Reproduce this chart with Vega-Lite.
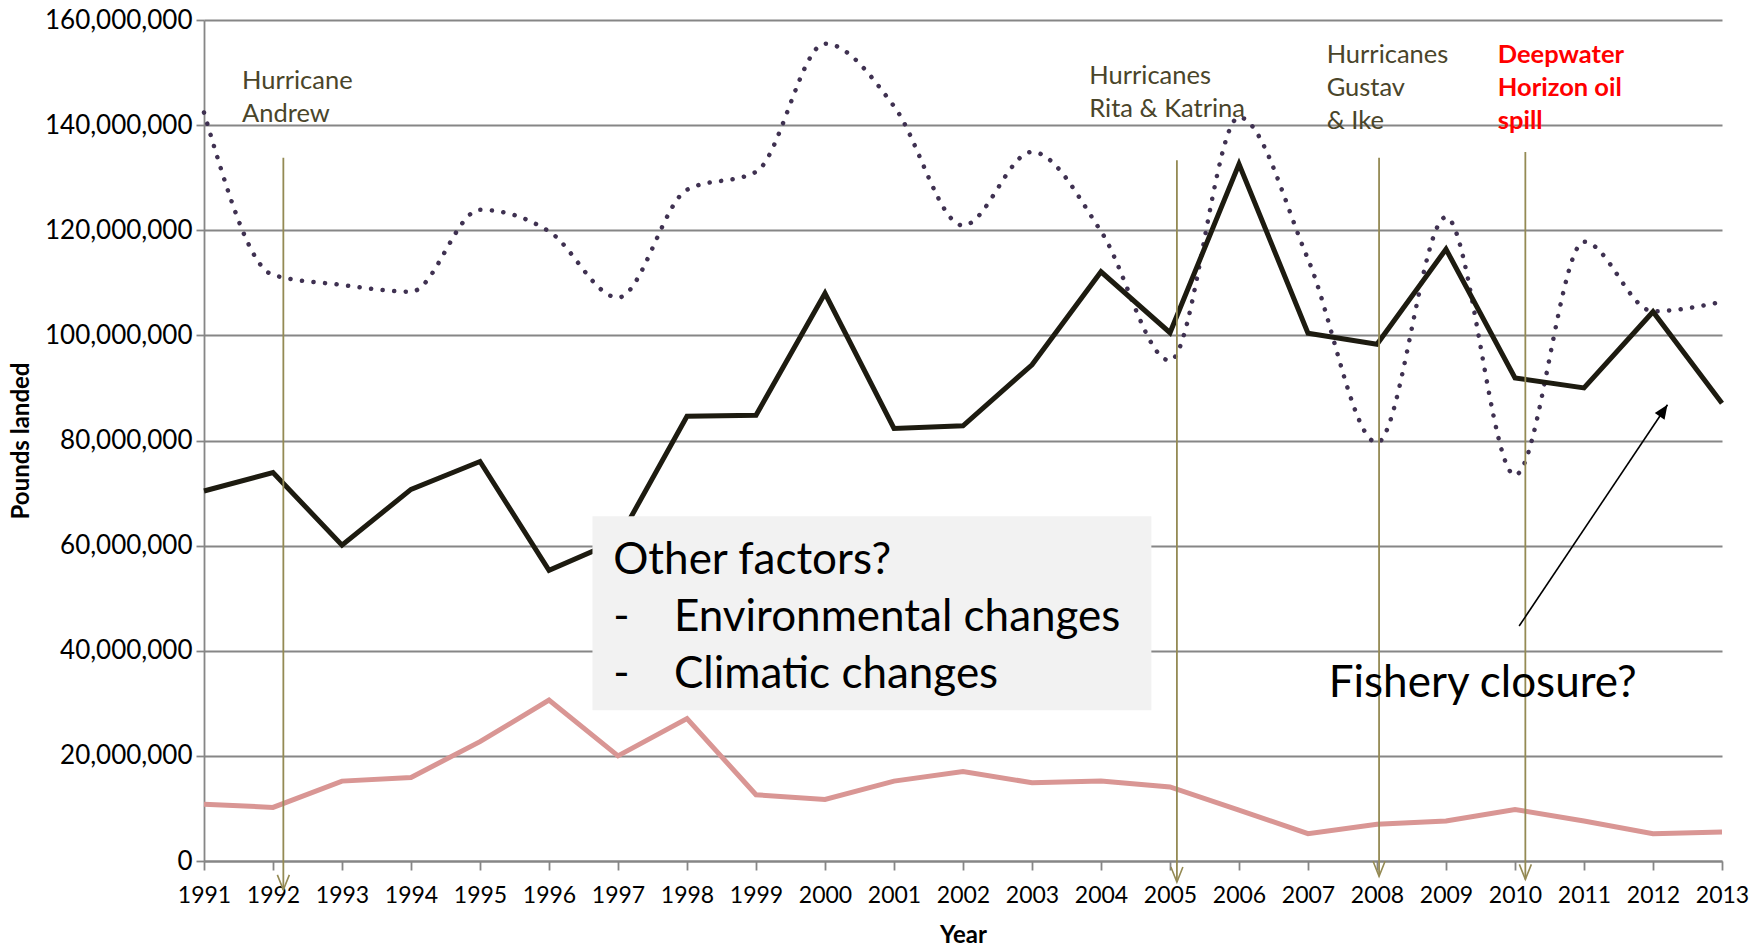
{
  "$schema": "https://vega.github.io/schema/vega-lite/v6.json",
  "width": 1518,
  "height": 841,
  "autosize": {"type": "none"},
  "padding": {"left": 204, "top": 20, "right": 40, "bottom": 86},
  "background": "white",
  "config": {"view": {"stroke": null}, "font": "Lato"},
  "datasets": {
    "landings": [
      {"year": 1991, "series": "Brown shrimp", "value": 142400000},
      {"year": 1992, "series": "Brown shrimp", "value": 111500000},
      {"year": 1993, "series": "Brown shrimp", "value": 109600000},
      {"year": 1994, "series": "Brown shrimp", "value": 108300000},
      {"year": 1995, "series": "Brown shrimp", "value": 123900000},
      {"year": 1996, "series": "Brown shrimp", "value": 119800000},
      {"year": 1997, "series": "Brown shrimp", "value": 107200000},
      {"year": 1998, "series": "Brown shrimp", "value": 127700000},
      {"year": 1999, "series": "Brown shrimp", "value": 131100000},
      {"year": 2000, "series": "Brown shrimp", "value": 155500000},
      {"year": 2001, "series": "Brown shrimp", "value": 143600000},
      {"year": 2002, "series": "Brown shrimp", "value": 120900000},
      {"year": 2003, "series": "Brown shrimp", "value": 134900000},
      {"year": 2004, "series": "Brown shrimp", "value": 119800000},
      {"year": 2005, "series": "Brown shrimp", "value": 95200000},
      {"year": 2006, "series": "Brown shrimp", "value": 141500000},
      {"year": 2007, "series": "Brown shrimp", "value": 114500000},
      {"year": 2008, "series": "Brown shrimp", "value": 79600000},
      {"year": 2009, "series": "Brown shrimp", "value": 122500000},
      {"year": 2010, "series": "Brown shrimp", "value": 73400000},
      {"year": 2011, "series": "Brown shrimp", "value": 117800000},
      {"year": 2012, "series": "Brown shrimp", "value": 104600000},
      {"year": 2013, "series": "Brown shrimp", "value": 106400000},
      {"year": 1991, "series": "White shrimp", "value": 70400000},
      {"year": 1992, "series": "White shrimp", "value": 73900000},
      {"year": 1993, "series": "White shrimp", "value": 60100000},
      {"year": 1994, "series": "White shrimp", "value": 70700000},
      {"year": 1995, "series": "White shrimp", "value": 76000000},
      {"year": 1996, "series": "White shrimp", "value": 55300000},
      {"year": 1997, "series": "White shrimp", "value": 61000000},
      {"year": 1998, "series": "White shrimp", "value": 84600000},
      {"year": 1999, "series": "White shrimp", "value": 84800000},
      {"year": 2000, "series": "White shrimp", "value": 108000000},
      {"year": 2001, "series": "White shrimp", "value": 82300000},
      {"year": 2002, "series": "White shrimp", "value": 82800000},
      {"year": 2003, "series": "White shrimp", "value": 94400000},
      {"year": 2004, "series": "White shrimp", "value": 112100000},
      {"year": 2005, "series": "White shrimp", "value": 100500000},
      {"year": 2006, "series": "White shrimp", "value": 132600000},
      {"year": 2007, "series": "White shrimp", "value": 100400000},
      {"year": 2008, "series": "White shrimp", "value": 98300000},
      {"year": 2009, "series": "White shrimp", "value": 116400000},
      {"year": 2010, "series": "White shrimp", "value": 91900000},
      {"year": 2011, "series": "White shrimp", "value": 90000000},
      {"year": 2012, "series": "White shrimp", "value": 104500000},
      {"year": 2013, "series": "White shrimp", "value": 87100000},
      {"year": 1991, "series": "Pink shrimp", "value": 10800000},
      {"year": 1992, "series": "Pink shrimp", "value": 10200000},
      {"year": 1993, "series": "Pink shrimp", "value": 15200000},
      {"year": 1994, "series": "Pink shrimp", "value": 15900000},
      {"year": 1995, "series": "Pink shrimp", "value": 22700000},
      {"year": 1996, "series": "Pink shrimp", "value": 30600000},
      {"year": 1997, "series": "Pink shrimp", "value": 20000000},
      {"year": 1998, "series": "Pink shrimp", "value": 27100000},
      {"year": 1999, "series": "Pink shrimp", "value": 12600000},
      {"year": 2000, "series": "Pink shrimp", "value": 11700000},
      {"year": 2001, "series": "Pink shrimp", "value": 15200000},
      {"year": 2002, "series": "Pink shrimp", "value": 17000000},
      {"year": 2003, "series": "Pink shrimp", "value": 14900000},
      {"year": 2004, "series": "Pink shrimp", "value": 15200000},
      {"year": 2005, "series": "Pink shrimp", "value": 14100000},
      {"year": 2006, "series": "Pink shrimp", "value": 9700000},
      {"year": 2007, "series": "Pink shrimp", "value": 5200000},
      {"year": 2008, "series": "Pink shrimp", "value": 7000000},
      {"year": 2009, "series": "Pink shrimp", "value": 7600000},
      {"year": 2010, "series": "Pink shrimp", "value": 9800000},
      {"year": 2011, "series": "Pink shrimp", "value": 7600000},
      {"year": 2012, "series": "Pink shrimp", "value": 5200000},
      {"year": 2013, "series": "Pink shrimp", "value": 5500000}
    ],
    "hurricanes": [
      {"year": 1992.15, "value": 133800000, "value2": -5500000},
      {"year": 2005.1, "value": 133300000, "value2": -4000000},
      {"year": 2008.03, "value": 133800000, "value2": -2900000},
      {"year": 2010.15, "value": 134900000, "value2": -3500000}
    ],
    "tips": [
      {"year": 1992.15, "value": -5500000},
      {"year": 2005.1, "value": -4000000},
      {"year": 2008.03, "value": -2900000},
      {"year": 2010.15, "value": -3500000}
    ],
    "box": [
      {"year": 1996.63, "year2": 2004.73, "value": 65600000, "value2": 28700000}
    ],
    "bigtext": [
      {"year": 1996.93, "value": 54600000, "label": "Other factors?"},
      {"year": 1996.93, "value": 43800000, "label": "-"},
      {"year": 1996.93, "value": 33000000, "label": "-"},
      {"year": 1997.81, "value": 43800000, "label": "Environmental changes"},
      {"year": 1997.81, "value": 33000000, "label": "Climatic changes"},
      {"year": 2007.3, "value": 31200000, "label": "Fishery closure?"}
    ],
    "events": [
      {"year": 1991.55, "value": 146800000, "label": "Hurricane\nAndrew"},
      {"year": 2003.83, "value": 147800000, "label": "Hurricanes\nRita & Katrina"},
      {"year": 2007.27, "value": 151900000, "label": "Hurricanes\nGustav\n& Ike"}
    ],
    "spill": [
      {"year": 2009.75, "value": 151900000, "label": "Deepwater\nHorizon oil\nspill"}
    ],
    "closure": [
      {"year": 2010.06, "value": 44700000, "year2": 2012.21, "value2": 86800000}
    ],
    "closuretip": [
      {"year": 2012.21, "value": 86800000}
    ]
  },
  "encoding": {
    "x": {
      "field": "year",
      "type": "quantitative",
      "scale": {"domain": [1991, 2013], "nice": false, "zero": false},
      "axis": {
        "values": [1991, 1992, 1993, 1994, 1995, 1996, 1997, 1998, 1999, 2000, 2001, 2002, 2003, 2004, 2005, 2006, 2007, 2008, 2009, 2010, 2011, 2012, 2013],
        "format": "d",
        "grid": false,
        "labelFont": "Lato",
        "labelFontSize": 23,
        "labelColor": "#000000",
        "labelPadding": 14,
        "labelFlush": false,
        "labelOverlap": false,
        "tickColor": "#868686",
        "tickSize": 9,
        "tickWidth": 1.8,
        "domainColor": "#868686",
        "domainWidth": 1.8,
        "title": "Year",
        "titleFont": "Lato",
        "titleFontSize": 24,
        "titleFontWeight": "bold",
        "titleColor": "#000000",
        "titlePadding": 16
      }
    },
    "y": {
      "field": "value",
      "type": "quantitative",
      "scale": {"domain": [0, 160000000], "nice": false, "zero": false},
      "axis": {
        "values": [0, 20000000, 40000000, 60000000, 80000000, 100000000, 120000000, 140000000, 160000000],
        "format": ",d",
        "grid": true,
        "gridColor": "#868686",
        "gridWidth": 1.8,
        "labelFont": "Lato",
        "labelFontSize": 26,
        "labelColor": "#000000",
        "labelPadding": 4,
        "tickColor": "#868686",
        "tickSize": 8,
        "tickWidth": 1.8,
        "domainColor": "#868686",
        "domainWidth": 1.8,
        "title": "Pounds landed",
        "titleFont": "Lato",
        "titleFontSize": 24,
        "titleFontWeight": "bold",
        "titleColor": "#000000",
        "titlePadding": 11
      }
    }
  },
  "layer": [
    {
      "data": {"name": "landings"},
      "transform": [{"filter": "datum.series == 'Brown shrimp'"}],
      "mark": {"type": "line", "interpolate": "monotone", "color": "#3f3151", "strokeWidth": 4.5, "strokeDash": [0.1, 11.5], "strokeCap": "round"}
    },
    {
      "data": {"name": "landings"},
      "transform": [{"filter": "datum.series == 'White shrimp'"}],
      "mark": {"type": "line", "color": "#1d1b10", "strokeWidth": 5}
    },
    {
      "data": {"name": "landings"},
      "transform": [{"filter": "datum.series == 'Pink shrimp'"}],
      "mark": {"type": "line", "color": "#d99694", "strokeWidth": 5}
    },
    {
      "data": {"name": "box"},
      "mark": {"type": "rect", "fill": "#f2f2f2"},
      "encoding": {"x2": {"field": "year2"}, "y2": {"field": "value2"}}
    },
    {
      "data": {"name": "hurricanes"},
      "mark": {"type": "rule", "color": "#948a54", "strokeWidth": 1.8},
      "encoding": {"y2": {"field": "value2"}}
    },
    {
      "data": {"name": "tips"},
      "mark": {"type": "point", "shape": "M-0.4,-1L0,0L0.4,-1", "size": 900, "filled": false, "color": "#948a54", "strokeWidth": 1.6, "opacity": 1}
    },
    {
      "data": {"name": "closure"},
      "mark": {"type": "rule", "color": "#000000", "strokeWidth": 1.6},
      "encoding": {"x2": {"field": "year2"}, "y2": {"field": "value2"}}
    },
    {
      "data": {"name": "closuretip"},
      "mark": {"type": "point", "shape": "M0,0L0.42,1L-0.42,1Z", "size": 784, "filled": true, "color": "#000000", "angle": 34, "opacity": 1}
    },
    {
      "data": {"name": "bigtext"},
      "mark": {"type": "text", "font": "Lato", "fontSize": 44, "color": "#000000", "align": "left", "baseline": "alphabetic"},
      "encoding": {"text": {"field": "label"}}
    },
    {
      "data": {"name": "events"},
      "mark": {"type": "text", "font": "Lato", "fontSize": 25.5, "color": "#4a452a", "align": "left", "baseline": "alphabetic", "lineBreak": "\n", "lineHeight": 33},
      "encoding": {"text": {"field": "label"}}
    },
    {
      "data": {"name": "spill"},
      "mark": {"type": "text", "font": "Lato", "fontSize": 25.5, "fontWeight": "bold", "color": "#ff0000", "align": "left", "baseline": "alphabetic", "lineBreak": "\n", "lineHeight": 33},
      "encoding": {"text": {"field": "label"}}
    }
  ]
}
